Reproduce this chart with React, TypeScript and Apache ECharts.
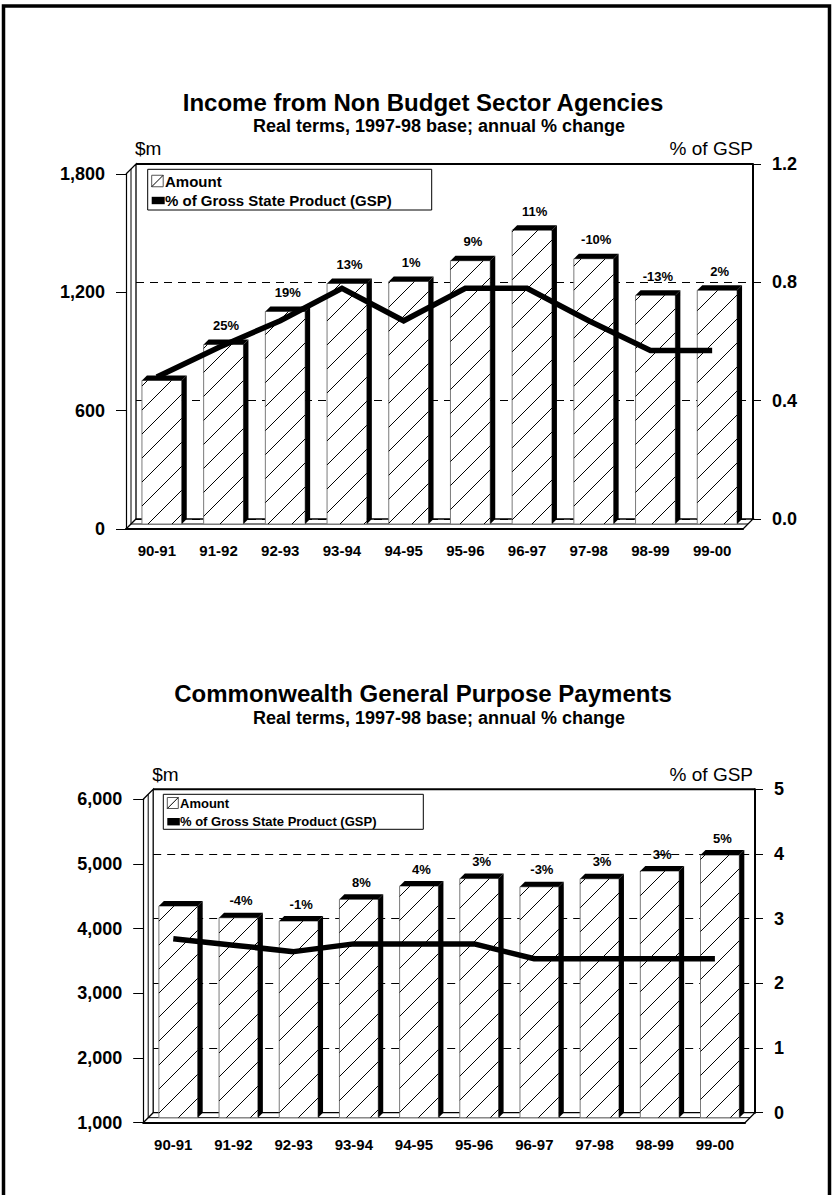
import React, { useEffect, useRef } from 'react';
import * as echarts from 'echarts';

const FONT = "'Liberation Sans', Arial, Helvetica, sans-serif";

const categories = ['90-91', '91-92', '92-93', '93-94', '94-95', '95-96', '96-97', '97-98', '98-99', '99-00'];

// Chart 1: Income from Non Budget Sector Agencies
const nbsAmount = [728, 910, 1078, 1220, 1230, 1335, 1490, 1345, 1160, 1185];
const nbsGsp = [0.48, 0.58, 0.67, 0.78, 0.67, 0.78, 0.78, 0.67, 0.57, 0.57];
const nbsChange = ['', '25%', '19%', '13%', '1%', '9%', '11%', '-10%', '-13%', '2%'];
const nbsLeftTicks = [0, 600, 1200, 1800];
const nbsRightTicks = [0, 0.4, 0.8, 1.2];

// Chart 2: Commonwealth General Purpose Payments
const cgpAmount = [4272, 4091, 4040, 4376, 4581, 4697, 4570, 4694, 4813, 5060];
const cgpGsp = [2.69, 2.59, 2.49, 2.61, 2.61, 2.61, 2.38, 2.38, 2.38, 2.38];
const cgpChange = ['', '-4%', '-1%', '8%', '4%', '3%', '-3%', '3%', '3%', '5%'];
const cgpLeftTicks = [1000, 2000, 3000, 4000, 5000, 6000];
const cgpRightTicks = [0, 1, 2, 3, 4, 5];

const SUBTITLE = 'Real terms, 1997-98 base; annual % change';

type Panel = {
  title: string;
  amount: number[];
  gsp: number[];
  change: string[];
  leftTicks: number[];
  rightTicks: number[];
  rightFmt: (v: number) => string;
  fx: number; fy: number; fw: number; fh: number;
  titleY: number; subY: number; unitY: number; labelGap: number;
  legend: { x: number; y: number; w: number; h: number; fs: number; tx: number; y1: number; y2: number; iw: number };
  join: string;
};

const panels: Panel[] = [
  {
    title: 'Income from Non Budget Sector Agencies',
    amount: nbsAmount, gsp: nbsGsp, change: nbsChange,
    leftTicks: nbsLeftTicks, rightTicks: nbsRightTicks,
    rightFmt: (v) => v.toFixed(1),
    fx: 126, fy: 174, fw: 617, fh: 355,
    titleY: 102, subY: 126, unitY: 148.5, labelGap: 19,
    legend: { x: 147.7, y: 169.3, w: 284, h: 40.7, fs: 15, tx: 165, y1: 181, y2: 200.5, iw: 11.5 },
    join: 'miter',
  },
  {
    title: 'Commonwealth General Purpose Payments',
    amount: cgpAmount, gsp: cgpGsp, change: cgpChange,
    leftTicks: cgpLeftTicks, rightTicks: cgpRightTicks,
    rightFmt: (v) => String(v),
    fx: 143.2, fy: 799.3, fw: 601.8, fh: 323.4,
    titleY: 693, subY: 718, unitY: 774, labelGap: 17,
    legend: { x: 163.3, y: 794.3, w: 260, h: 35, fs: 13, tx: 180, y1: 803, y2: 821.7, iw: 11 },
    join: 'round',
  },
];

const txt = (text: string, x: number, y: number, size: number, weight: string, align = 'center', z = 10) => ({
  type: 'text', z, x, y, silent: true,
  style: {
    text, x: 0, y: 0, fill: '#000', fontSize: size, fontWeight: weight, fontFamily: FONT,
    align, verticalAlign: 'middle', textAlign: align, textVerticalAlign: 'middle',
  },
});

const seg = (x1: number, y1: number, x2: number, y2: number, w = 1, z = 1) => ({
  type: 'line', z, silent: true,
  shape: { x1, y1, x2, y2 },
  style: { stroke: '#000', lineWidth: w },
});

function buildOption() {
  const grid: any[] = [];
  const xAxis: any[] = [];
  const yAxis: any[] = [];
  const series: any[] = [];
  const graphic: any[] = [];

  graphic.push({
    type: 'rect', z: 20, silent: true,
    shape: { x: 3.5, y: 6, width: 826, height: 1300 },
    style: { fill: 'none', stroke: '#000', lineWidth: 3.5 },
  });

  panels.forEach((p, pi) => {
    const k = pi * 4;
    const D = 10;
    const lMin = p.leftTicks[0];
    const lMax = p.leftTicks[p.leftTicks.length - 1];
    const lInt = p.leftTicks[1] - p.leftTicks[0];
    const rMin = p.rightTicks[0];
    const rMax = p.rightTicks[p.rightTicks.length - 1];
    const rInt = p.rightTicks[1] - p.rightTicks[0];

    // front, bars (mid-depth), back, line grids
    grid.push({ left: p.fx, top: p.fy, width: p.fw, height: p.fh });
    grid.push({ left: p.fx + D / 2, top: p.fy - D / 2, width: p.fw, height: p.fh });
    grid.push({ left: p.fx + D, top: p.fy - D, width: p.fw, height: p.fh });
    grid.push({ left: p.fx, top: p.fy - D, width: p.fw, height: p.fh });

    xAxis.push({
      type: 'category', gridIndex: k, data: categories,
      axisLine: { lineStyle: { color: '#000', width: 2 } },
      axisTick: { alignWithLabel: true, length: 9, lineStyle: { color: '#000' } },
      axisLabel: { interval: 0, margin: 14, color: '#000', fontWeight: 'bold', fontSize: 15, fontFamily: FONT },
    });
    for (let j = 1; j < 4; j++) {
      xAxis.push({ type: 'category', gridIndex: k + j, data: categories, show: false });
    }

    yAxis.push({
      type: 'value', gridIndex: k, position: 'left', min: lMin, max: lMax, interval: lInt,
      axisLine: { show: true, lineStyle: { color: '#000', width: 1.2 } },
      axisTick: { show: true, length: 10, lineStyle: { color: '#000' } },
      axisLabel: {
        margin: 21, color: '#000', fontWeight: 'bold', fontSize: 18, fontFamily: FONT,
        showMinLabel: true, showMaxLabel: true,
        formatter: (v: number) => v.toLocaleString('en-US'),
      },
      splitLine: { show: false },
    });
    yAxis.push({ type: 'value', gridIndex: k + 1, min: lMin, max: lMax, interval: lInt, show: false, splitLine: { show: false } });
    yAxis.push({
      type: 'value', gridIndex: k + 2, position: 'right', min: rMin, max: rMax, interval: rInt,
      axisLine: { show: true, lineStyle: { color: '#000', width: 2 } },
      axisTick: { show: true, length: 8, lineStyle: { color: '#000' } },
      axisLabel: {
        margin: 19, color: '#000', fontWeight: 'bold', fontSize: 18, fontFamily: FONT,
        showMinLabel: true, showMaxLabel: true,
        formatter: (v: number) => p.rightFmt(v),
      },
      splitLine: { show: true, lineStyle: { color: '#000', width: 1, type: [8, 6] } },
    });
    yAxis.push({ type: 'value', gridIndex: k + 3, min: rMin, max: rMax, interval: rInt, show: false, splitLine: { show: false } });

    const change = p.change;
    const gap = p.labelGap;
    series.push({
      type: 'custom', xAxisIndex: k + 1, yAxisIndex: k + 1, z: 2, silent: true,
      data: p.amount.map((v, i) => [i, v]),
      encode: { x: 0, y: 1 },
      renderItem: (params: any, api: any) => {
        const i = api.value(0);
        const v = api.value(1);
        const top = api.coord([i, v]);
        const base = api.coord([i, lMin]);
        const band = api.size([1, 0])[0];
        const w = band * 0.645;
        const d = 5;
        const x0 = top[0] - w / 2;
        const yT = top[1];
        const yB = base[1];
        const children: any[] = [];
        children.push({
          type: 'rect', shape: { x: x0, y: yT, width: w, height: yB - yT },
          style: { fill: '#fff', stroke: '#7a7a7a', lineWidth: 1 },
        });
        const s = 24;
        const cStart = Math.ceil((x0 + yT) / s) * s;
        for (let c = cStart; c < x0 + w + yB; c += s) {
          const xa = Math.max(x0, c - yB);
          const xb = Math.min(x0 + w, c - yT);
          if (xb - xa > 0.5) {
            children.push({ type: 'line', shape: { x1: xa, y1: c - xa, x2: xb, y2: c - xb }, style: { stroke: '#000', lineWidth: 1 } });
          }
        }
        children.push({
          type: 'polygon',
          shape: { points: [[x0, yT], [x0 + w, yT], [x0 + w + d, yT - d], [x0 + d, yT - d]] },
          style: { fill: '#000' },
        });
        children.push({
          type: 'polygon',
          shape: { points: [[x0 + w, yT], [x0 + w + d, yT - d], [x0 + w + d, yB - d], [x0 + w, yB]] },
          style: { fill: '#000' },
        });
        const lab = change[params.dataIndex];
        if (lab) {
          children.push({
            type: 'text',
            style: {
              text: lab, x: x0 + w / 2 + 2.5, y: yT - gap, fill: '#000',
              fontSize: 13, fontWeight: 'bold', fontFamily: FONT,
              align: 'center', verticalAlign: 'middle', textAlign: 'center', textVerticalAlign: 'middle',
            },
          });
        }
        return { type: 'group', children };
      },
    });
    series.push({
      type: 'line', xAxisIndex: k + 3, yAxisIndex: k + 3, z: 5, silent: true,
      data: p.gsp, symbol: 'none', showSymbol: false,
      lineStyle: { color: '#000', width: 5.5, join: p.join, cap: 'butt' },
    });

    // 3D walls and floor
    const fL = p.fx, fR = p.fx + p.fw, fT = p.fy, fB = p.fy + p.fh;
    const bL = fL + D, bR = fR + D, bT = fT - D, bB = fB - D;
    const m = D / 2;
    graphic.push({
      type: 'polyline', z: 1, silent: true,
      shape: { points: [[fL, fB], [bL, bB], [bR, bB], [fR, fB]] },
      style: { fill: 'none', stroke: '#000', lineWidth: 1.3 },
    });
    graphic.push(seg(fL + m, fB - m, fR + m, fB - m, 1));
    graphic.push({
      type: 'polyline', z: 1, silent: true,
      shape: { points: [[fL, fT], [bL, bT], [bL, bB]] },
      style: { fill: 'none', stroke: '#000', lineWidth: 1.3 },
    });
    graphic.push(seg(fL + m, fT - m, fL + m, fB - m, 1));
    graphic.push(seg(bL, bT, bR, bT, 2));

    // titles and axis units
    graphic.push(txt(p.title, 423, p.titleY, 24, 'bold'));
    graphic.push(txt(SUBTITLE, 439, p.subY, 18, 'bold'));
    graphic.push(txt('$m', bL - 1, p.unitY, 19, 'normal', 'left'));
    graphic.push(txt('% of GSP', 753, p.unitY, 19, 'normal', 'right'));

    // legend
    const L = p.legend;
    graphic.push({
      type: 'rect', z: 10, silent: true,
      shape: { x: L.x, y: L.y, width: L.w, height: L.h },
      style: { fill: '#fff', stroke: '#000', lineWidth: 1 },
    });
    const ix = L.x + 4;
    graphic.push({
      type: 'rect', z: 11, silent: true,
      shape: { x: ix, y: L.y1 - L.iw / 2, width: L.iw, height: L.iw },
      style: { fill: '#fff', stroke: '#555', lineWidth: 1 },
    });
    graphic.push(seg(ix, L.y1 + L.iw / 2, ix + L.iw, L.y1 - L.iw / 2, 1, 11));
    graphic.push({
      type: 'rect', z: 11, silent: true,
      shape: { x: ix, y: L.y2 - 3.7, width: L.iw + 1.5, height: 7.4 },
      style: { fill: '#000' },
    });
    graphic.push(txt('Amount', L.tx, L.y1, L.fs, 'bold', 'left', 12));
    graphic.push(txt('% of Gross State Product (GSP)', L.tx, L.y2, L.fs, 'bold', 'left', 12));
  });

  return { animation: false, backgroundColor: '#fff', grid, xAxis, yAxis, series, graphic };
}

export default function App() {
  const ref = useRef<HTMLDivElement>(null);
  useEffect(() => {
    document.body.style.margin = '0';
    const chart = echarts.init(ref.current as HTMLDivElement, undefined, { renderer: 'svg' });
    chart.setOption(buildOption() as any);
    return () => chart.dispose();
  }, []);
  return <div ref={ref} style={{ width: 832, height: 1195 }} />;
}
